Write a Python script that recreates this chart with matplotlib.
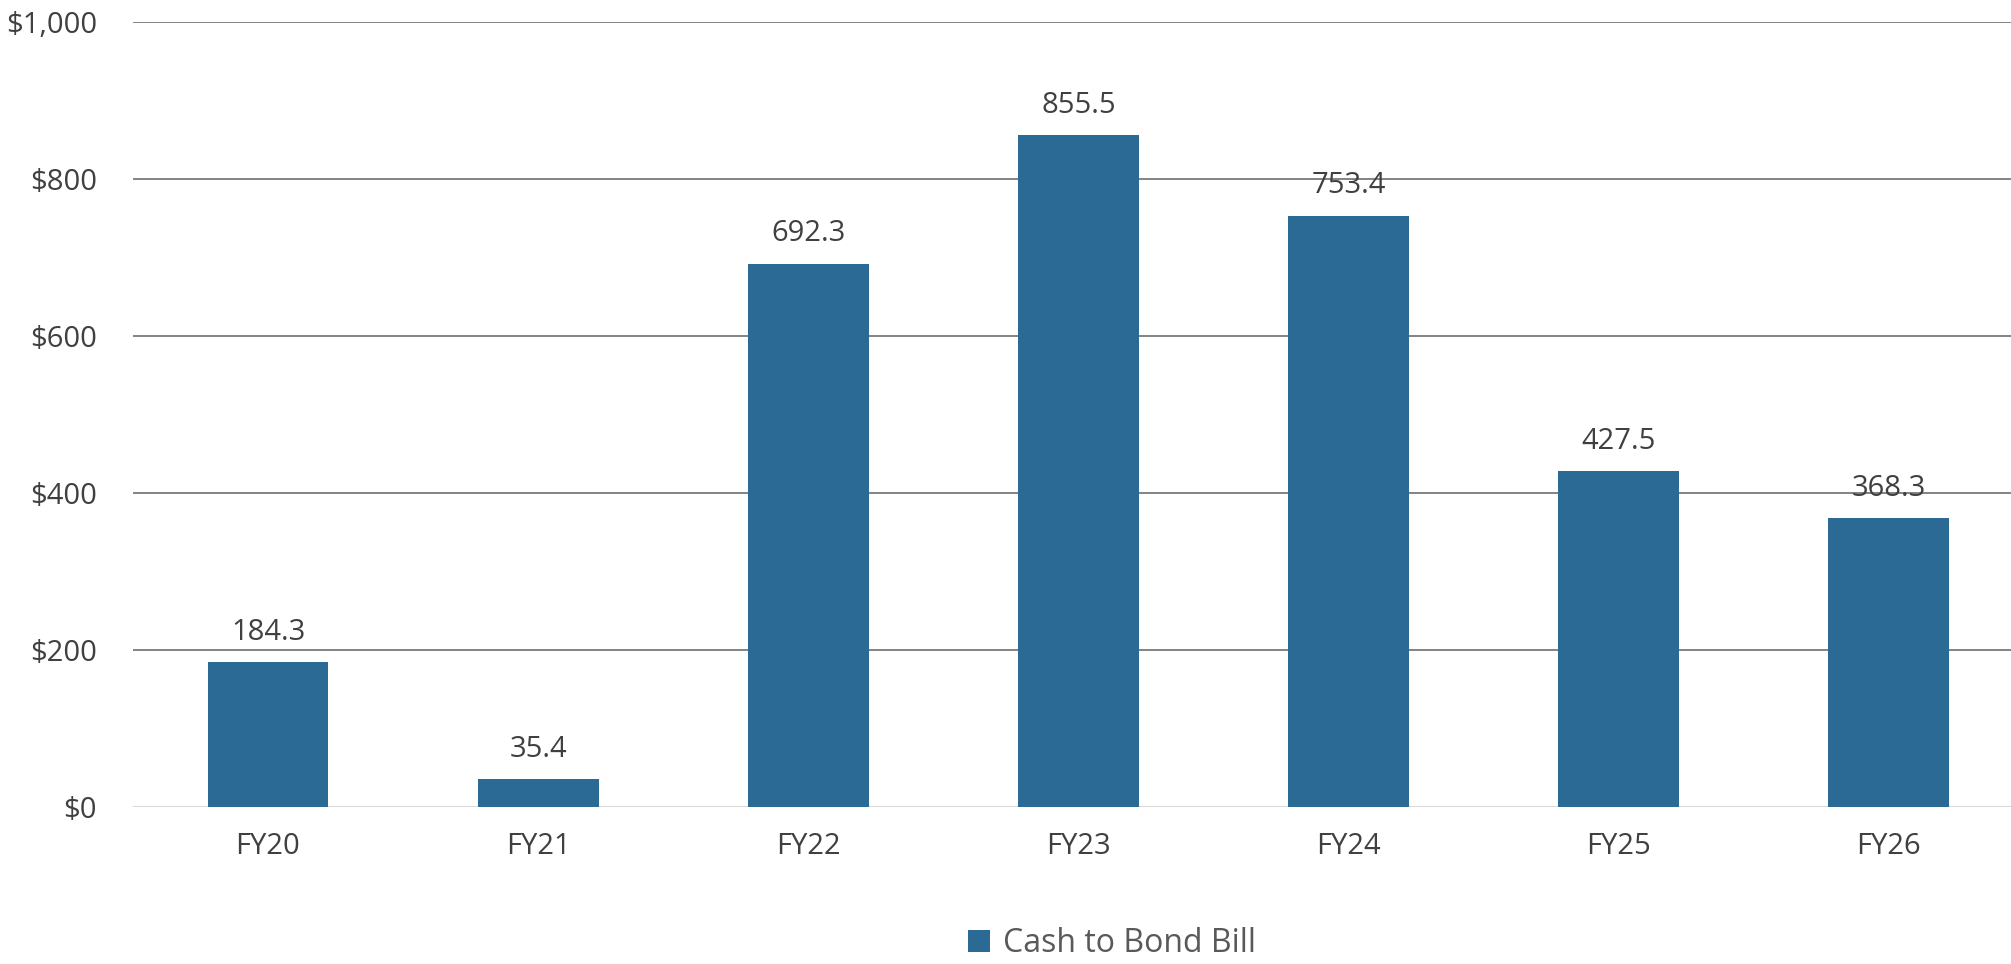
import matplotlib
matplotlib.use('Agg')
import matplotlib.pyplot as plt
from matplotlib.ticker import FuncFormatter
import numpy as np

# Chart data
years = ['FY20', 'FY21', 'FY22', 'FY23', 'FY24', 'FY25', 'FY26']
cash_to_bond = [184.3, 35.4, 692.3, 855.5, 753.4, 427.5, 368.3]

plt.rcParams['font.family'] = ['Open Sans', 'DejaVu Sans']
text_color = '#404040'
bar_color = '#2B6A95'

fig = plt.figure(figsize=(20.11, 9.64), dpi=100)
# axes runs slightly past the right edge, like the original
ax = fig.add_axes([0.0661, 0.1629, 0.9403, 0.8143])

x = np.arange(len(years))
bars = ax.bar(x, cash_to_bond, width=0.447, color=bar_color, label='Cash to Bond Bill', zorder=3)

ax.set_xlim(-0.5, len(years) - 0.5)
ax.set_ylim(0, 1000)
ax.set_yticks(np.arange(0, 1001, 200))
ax.yaxis.set_major_formatter(FuncFormatter(lambda v, p: '${:,.0f}'.format(v)))

# Gridlines (zero line is lighter)
for v in np.arange(200, 1001, 200):
    ax.axhline(v, color='#7a7a7a', linewidth=1.3, zorder=1)
ax.axhline(0, color='#d9d9d9', linewidth=1.5, zorder=2)

for s in ax.spines.values():
    s.set_visible(False)
ax.tick_params(axis='both', length=0, labelsize=21, colors=text_color)
ax.tick_params(axis='y', pad=26)
ax.tick_params(axis='x', pad=18)
ax.set_xticks(x)
ax.set_xticklabels(years)

# Data labels
for xi, v in zip(x, cash_to_bond):
    ax.annotate('{:.1f}'.format(v), (xi, v), xytext=(0, 11), textcoords='offset points',
                ha='center', va='bottom', fontsize=21, color=text_color)

fig.legend(handles=[bars], labels=['Cash to Bond Bill'], loc='center',
           bbox_to_anchor=(0.553, 0.021), frameon=False, fontsize=23,
           handlelength=0.7, handleheight=0.7, handletextpad=0.4,
           labelcolor='#595959')

plt.savefig('out.png', dpi=100)
